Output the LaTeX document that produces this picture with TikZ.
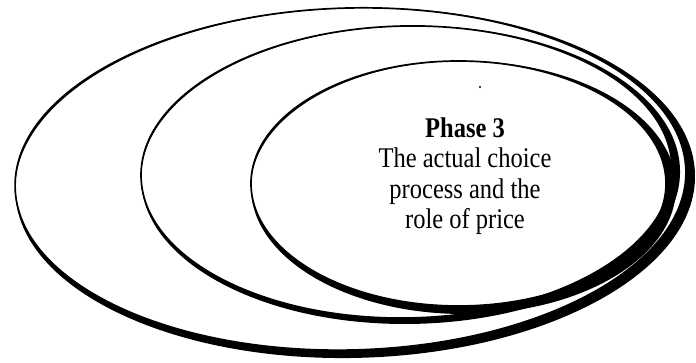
\documentclass[tikz,border=0pt]{standalone}
\usepackage{fontspec}
\newfontfamily\scanfont{Liberation Serif}[FakeStretch=0.86]
\begin{document}
\begin{tikzpicture}[x=1pt,y=1pt,
  rim/.style={draw=black,line width=1.7pt},
  crescent/.style={fill=black,even odd rule},
  label/.style={font=\scanfont\fontsize{28.5}{30.5}\selectfont,align=center,inner sep=0pt}]
\useasboundingbox[fill=white] (0,0) rectangle (696,362);
% outer ellipse
\begin{scope}[rotate around={1.5:(350.5,183)}]
  \fill[crescent] (355,179) ellipse [x radius=340pt,y radius=175pt]
                  (350.5,183) ellipse [x radius=335.5pt,y radius=171pt];
  \draw[rim] (350.5,183) ellipse [x radius=335.5pt,y radius=171pt];
\end{scope}
% middle ellipse
\begin{scope}[rotate around={1:(406.5,190)}]
  \fill[crescent] (410.5,187) ellipse [x radius=269.5pt,y radius=149pt]
                  (406.5,190) ellipse [x radius=265.5pt,y radius=146pt];
  \draw[rim] (406.5,190) ellipse [x radius=265.5pt,y radius=146pt];
\end{scope}
% inner ellipse
\fill[crescent] (463.5,174.5) ellipse [x radius=212.5pt,y radius=126.5pt]
                (458.5,178.5) ellipse [x radius=207.5pt,y radius=122.5pt];
\draw[rim] (458.5,178.5) ellipse [x radius=207.5pt,y radius=122.5pt];
\fill (480,275) circle [radius=1.2pt];
\node[label] (phase) at (465,186) {\textbf{Phase 3}\\The actual choice\\process and the\\role of price};
\end{tikzpicture}
\end{document}
